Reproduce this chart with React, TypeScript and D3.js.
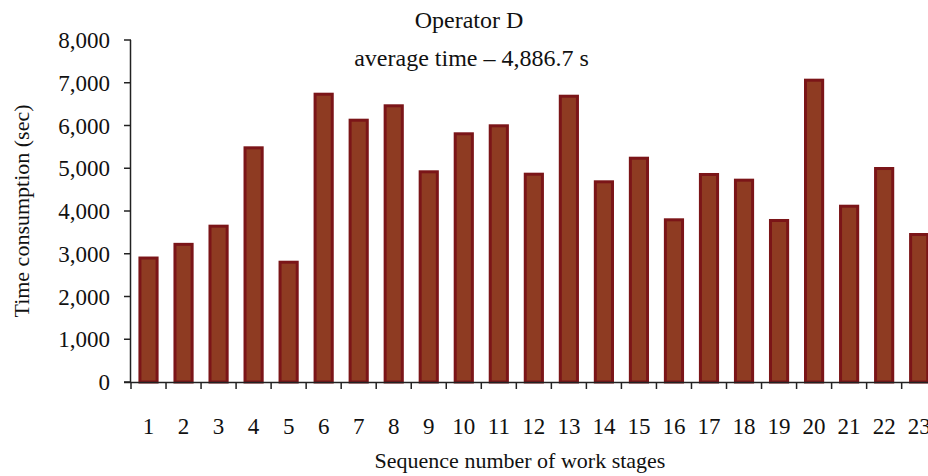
import React from "react";
import * as d3 from "d3";

const categories: string[] = Array.from({ length: 23 }, (_, i) => String(i + 1));
const values: number[] = [
  2900, 3220, 3645, 5478, 2802, 6732, 6124, 6461, 4917, 5806, 5993, 4861,
  6685, 4683, 5235, 3794, 4854, 4721, 3778, 7060, 4112, 4994, 3450,
];
const yTicks: number[] = [0, 1000, 2000, 3000, 4000, 5000, 6000, 7000, 8000];
const title = "Operator D";
const subtitle = "average time \u2013 4,886.7 s";
const yTitle = "Time consumption (sec)";
const xTitle = "Sequence number of work stages";

const W = 928;
const H = 476;
const left = 131;
const band = 35.03;
const top = 40;
const bottom = 382;
const font = "'Liberation Serif', 'Times New Roman', serif";

export default function App() {
  const x = d3
    .scaleBand<string>()
    .domain(categories)
    .range([left, left + band * categories.length])
    .paddingInner(0)
    .paddingOuter(0);
  const y = d3.scaleLinear().domain([0, 8000]).range([bottom, top]);
  const bw = x.bandwidth() * 0.49;
  const fmt = d3.format(",");
  const axisColor = "#222";

  return (
    <>
      <style>{`body{margin:0}`}</style>
      <svg width={W} height={H} style={{ display: "block", background: "#fff" }} fontFamily={font}>
        <text x={469} y={28} textAnchor="middle" fontSize={24} fill="#111">{title}</text>
        <text x={471.5} y={66} textAnchor="middle" fontSize={24} fill="#111">{subtitle}</text>

        {values.map((v, i) => {
          const cx = (x(categories[i]) ?? 0) + x.bandwidth() / 2;
          return (
            <rect
              key={i}
              x={cx - bw / 2}
              y={y(v)}
              width={bw}
              height={y(0) - y(v)}
              fill="#8E3B22"
              stroke="#7B1518"
              strokeWidth={3}
            />
          );
        })}

        {/* y axis */}
        <line x1={left - 0.5} x2={left - 0.5} y1={top} y2={bottom} stroke={axisColor} strokeWidth={1.5} />
        {yTicks.map((t) => (
          <g key={t}>
            <line x1={left - 7} x2={left} y1={y(t)} y2={y(t)} stroke={axisColor} strokeWidth={1.5} />
            <text x={110} y={y(t)} dy="0.35em" textAnchor="end" fontSize={23} fill="#111">{fmt(t)}</text>
          </g>
        ))}

        {/* x axis */}
        <line x1={left - 7} x2={W} y1={bottom + 0.5} y2={bottom + 0.5} stroke={axisColor} strokeWidth={1.5} />
        {categories.map((c) => (
          <line
            key={"t" + c}
            x1={(x(c) ?? 0)}
            x2={(x(c) ?? 0)}
            y1={bottom}
            y2={bottom + 7}
            stroke={axisColor}
            strokeWidth={1.5}
          />
        ))}
        {categories.map((c) => (
          <text
            key={"l" + c}
            x={(x(c) ?? 0) + x.bandwidth() / 2}
            y={434}
            textAnchor="middle"
            fontSize={23}
            fill="#111"
          >
            {c}
          </text>
        ))}

        <text x={520} y={468} textAnchor="middle" fontSize={22} fill="#111">{xTitle}</text>
        <text
          transform={`translate(29, ${(top + bottom) / 2}) rotate(-90)`}
          textAnchor="middle"
          fontSize={22}
          fill="#111"
        >
          {yTitle}
        </text>
      </svg>
    </>
  );
}
